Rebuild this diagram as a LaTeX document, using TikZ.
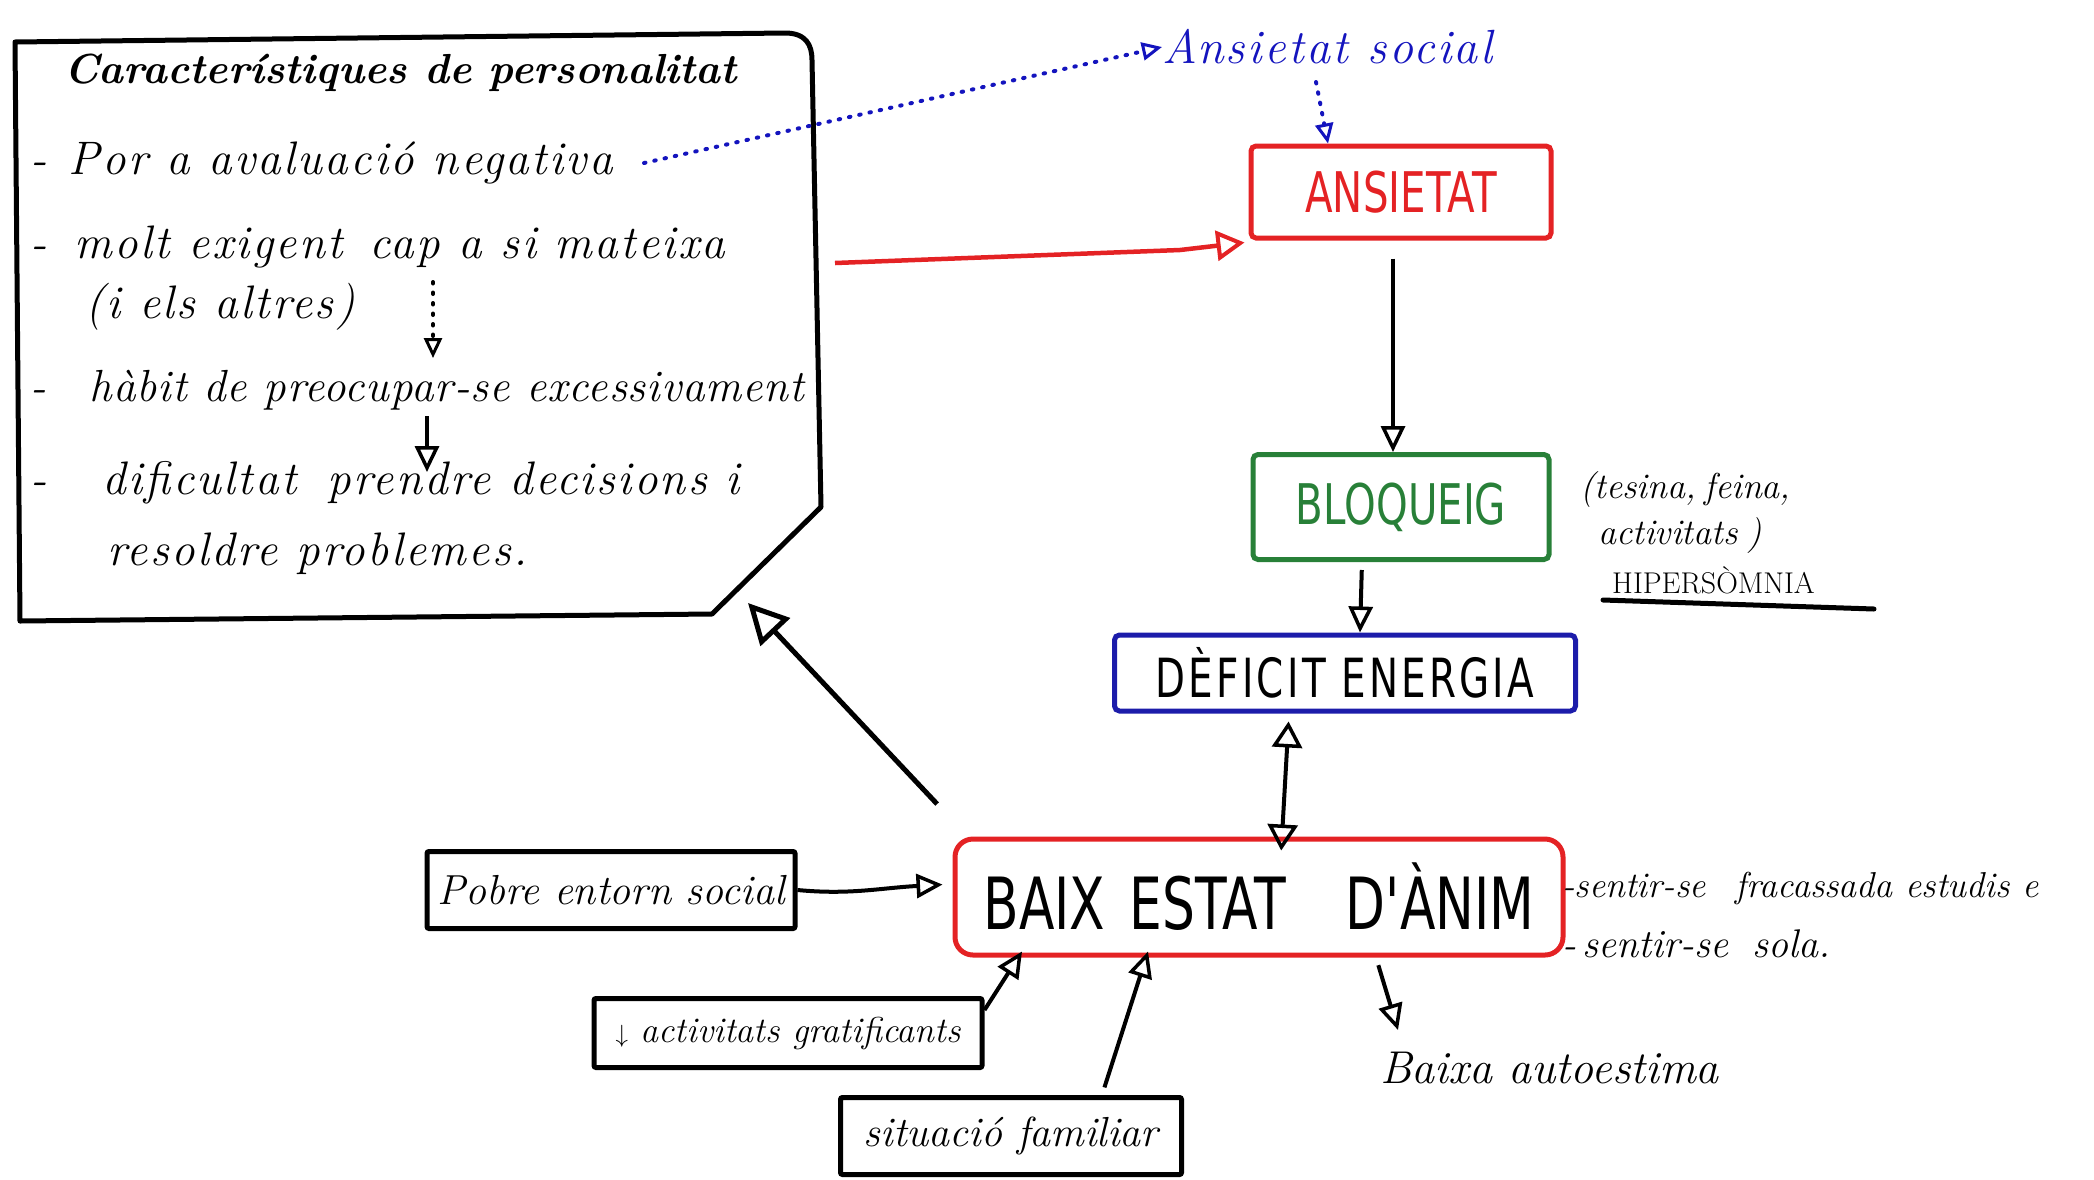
\documentclass[tikz,border=0pt]{standalone}
\usepackage{fontspec}
\usetikzlibrary{arrows.meta,calc}
\newfontfamily\capsf[FakeStretch=0.72]{DejaVu Sans}
\newfontfamily\handf[LetterSpace=5]{Latin Modern Roman}
\newfontfamily\handg[LetterSpace=2]{Latin Modern Roman}
\definecolor{penred}{RGB}{228,34,36}
\definecolor{pengreen}{RGB}{40,128,56}
\definecolor{penblue}{RGB}{28,28,170}
\definecolor{inkblue}{RGB}{20,20,190}
\tikzset{
  hand/.style={font=\handf\itshape\fontsize{47}{50}\selectfont, inner sep=0pt},
  capbox/.style={draw, line width=5pt, inner sep=0pt, rounded corners=5pt},
  arr/.style={line width=4pt, -{Triangle[open,length=26pt,width=24pt,line width=3.5pt]}},
  bigarr/.style={line width=5pt, -{Triangle[open,length=40pt,width=40pt,line width=5pt]}},
  dotarr/.style={line width=4pt, dash pattern=on 1.5pt off 9pt, line cap=round,
     -{Triangle[open,length=20pt,width=18pt,line width=3pt,sep=0pt]}},
}
\begin{document}
\begin{tikzpicture}[x=1pt,y=-1pt]
\useasboundingbox (0,0) rectangle (2094,1179);

% big personality box
\coordinate (pTR) at (812,60);
\coordinate (pR) at (835,263);
\coordinate (pcut) at (748,603);
\draw[line width=5pt, line join=round] (15,42) -- (785,33) .. controls (806,33) and (812,45) .. (pTR)
   -- (821,507) -- (712,614) -- (20,621) -- cycle;

\node[hand, anchor=west, font=\itshape\bfseries\fontsize{42}{46}\selectfont] (title) at (64,73) {Característiques de personalitat};
\node[hand, anchor=west] (l1) at (30,163) {-\hspace{22pt}Por a avaluació negativa};
\node[hand, anchor=west] (l2) at (30,247) {-\hspace{28pt}molt exigent\hspace{8pt} cap a si mateixa};
\node[hand, anchor=west] (l3) at (85,307) {(i els altres)};
\node[hand, anchor=west, font=\handg\itshape\fontsize{45}{50}\selectfont] (l4) at (30,390) {-\hspace{44pt}hàbit de preocupar-se excessivament};
\node[hand, anchor=west] (l5) at (30,483) {-\hspace{56pt}dificultat\hspace{12pt} prendre decisions i};
\node[hand, anchor=west] (l6) at (107,554) {resoldre problemes.};

\coordinate (d1) at (433,282);
\coordinate (d2) at (433,358);
\draw[dotarr, black] (d1) -- (d2);
\coordinate (s1) at (427,416);
\coordinate (s2) at (427,472);
\draw[arr] (s1) -- (s2);

% ansietat social
\node[hand, anchor=west, text=inkblue, font=\handf\itshape\fontsize{48}{50}\selectfont] (soc) at (1162,47) {Ansietat social};
\coordinate (neg) at (644,163);
\draw[dotarr, inkblue] (neg) -- (soc.west);

% main boxes
\node[capbox, draw=penred, text=penred, minimum width=300, minimum height=92,
      font=\capsf\fontsize{56}{60}\selectfont] (ans) at (1401,192) {ANSIETAT};
\node[capbox, draw=pengreen, text=pengreen, minimum width=296, minimum height=105,
      font=\capsf\fontsize{56}{60}\selectfont] (blo) at (1401,507) {BLOQUEIG};
\node[capbox, draw=penblue, text=black, minimum width=461, minimum height=76,
      font=\capsf\addfontfeatures{LetterSpace=6}\fontsize{54}{58}\selectfont] (def) at (1345,673) {DÈFICIT ENERGIA};
\node[capbox, draw=penred, text=black, minimum width=608, minimum height=116, rounded corners=18pt,
      font=\capsf\fontsize{72}{76}\selectfont] (baix) at (1259,897) {BAIX\hspace{24pt}ESTAT\hspace{60pt}D'ÀNIM};

\coordinate (socb) at (1316,82);
\draw[dotarr, inkblue] (socb) -- ([xshift=-73pt]ans.north);
\draw[line width=4.5pt, penred, -{Triangle[open,length=28pt,width=30pt,line width=4pt]}] (pR) -- (1180,250) -- ([xshift=-4pt,yshift=-2pt]ans.south west);

\draw[arr, shorten <=18pt] ([xshift=-8pt]ans.south) -- ([xshift=-8pt]blo.north);
\draw[arr, shorten <=8pt] ([xshift=-39pt]blo.south) -- ([xshift=15pt]def.north);
\draw[line width=4pt, {Triangle[open,length=26pt,width=30pt,line width=3.5pt]}-{Triangle[open,length=26pt,width=30pt,line width=3.5pt]}, shorten <=8pt, shorten >=-14pt]
   ([xshift=-56pt]def.south) -- ([xshift=23pt]baix.north);

% side notes
\node[hand, anchor=west, font=\itshape\fontsize{36}{40}\selectfont] (tes1) at (1580,490) {(tesina,\hspace{8pt}feina,};
\node[hand, anchor=west, font=\itshape\fontsize{36}{40}\selectfont] (tes2) at (1598,536) {activitats\hspace{10pt})};
\node[hand, anchor=west, font=\fontsize{30}{34}\selectfont] (hiper) at (1612,580) {HIPERSÒMNIA};
\coordinate (u1) at (1603,600);
\coordinate (u2) at (1874,609);
\draw[line width=5pt, line cap=round] (u1) -- (u2);

\node[hand, anchor=west, font=\itshape\fontsize{36}{40}\selectfont] (sent1) at (1562,888) {-sentir-se\hspace{30pt}fracassada estudis e};
\node[hand, anchor=west, font=\itshape\fontsize{40}{44}\selectfont] (sent2) at (1562,944) {-\,sentir-se\hspace{10pt} sola.};

% lower boxes
\node[capbox, rounded corners=2pt, minimum width=368, minimum height=77, font=\itshape\fontsize{42}{46}\selectfont] (pob) at (611,890) {Pobre entorn social};
\node[capbox, rounded corners=2pt, minimum width=388, minimum height=69, font=\itshape\fontsize{36}{40}\selectfont] (act) at (788,1033) {$\downarrow$ activitats gratificants};
\node[capbox, rounded corners=2pt, minimum width=341, minimum height=77, font=\itshape\fontsize{42}{46}\selectfont] (sit) at (1011,1136) {situació familiar};
\node[hand, anchor=west, font=\itshape\fontsize{46}{50}\selectfont] (auto) at (1380,1068) {Baixa autoestima};

\draw[arr, shorten >=10pt] (pob.east) .. controls (850,895) and (880,888) .. ([yshift=13pt]baix.west);
\draw[arr] ([yshift=-14pt]act.north east) -- ([xshift=-237pt,yshift=6pt]baix.south);
\draw[arr, shorten <=8pt] ([xshift=91pt]sit.north) -- ([xshift=-111pt,yshift=6pt]baix.south);
\coordinate (autotip) at (1398,1030);
\draw[arr, shorten <=8pt] ([xshift=117pt]baix.south) -- (autotip);
\draw[bigarr, shorten <=2pt] ([xshift=-14pt,yshift=31pt]baix.north west) -- (pcut);
\end{tikzpicture}
\end{document}
